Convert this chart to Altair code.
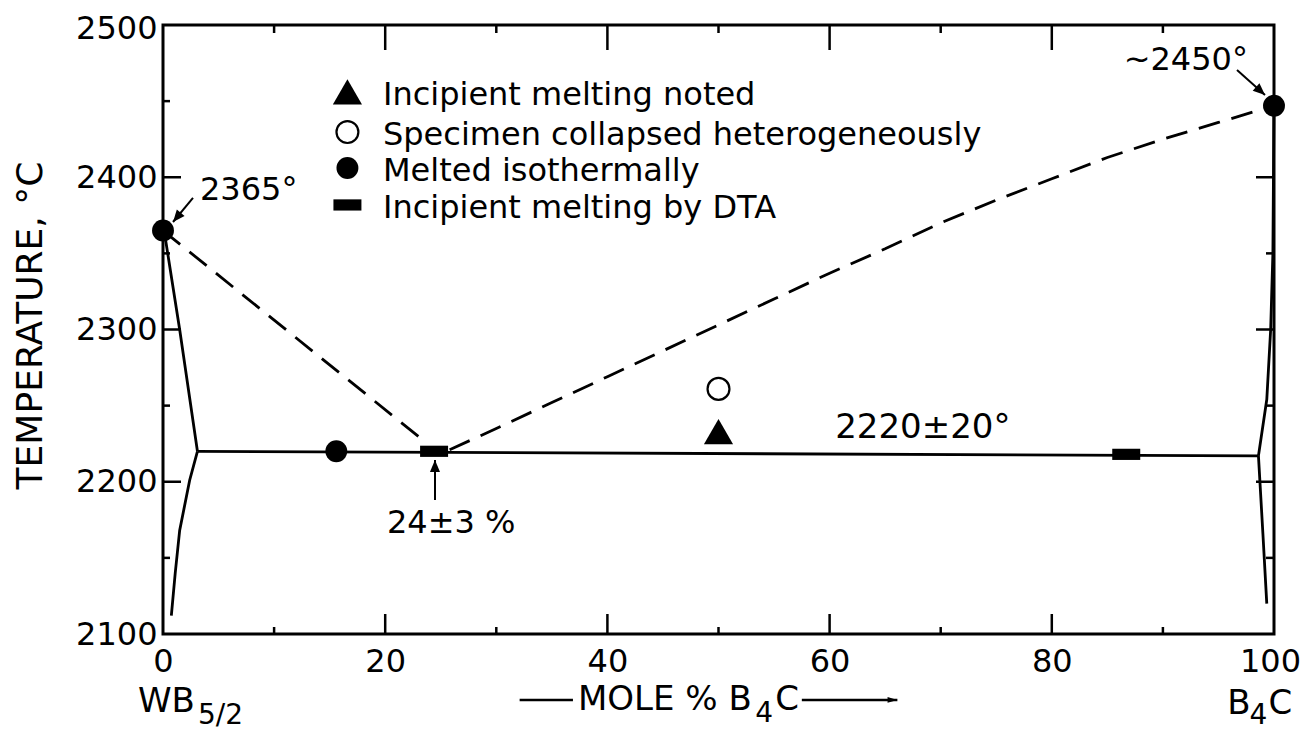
import altair as alt
import pandas as pd

W, H = 1111, 609
FONT = "DejaVu Sans"

# ---------------- data ----------------
x_labels = [0, 20, 40, 60, 80, 100]
y_labels = [2100, 2200, 2300, 2400, 2500]
x_ticks_major = [20, 40, 60, 80]
x_ticks_minor = [10, 30, 50, 70, 90]
y_ticks_major = [2200, 2300, 2400]
y_ticks_minor = [2150, 2250, 2350, 2450]

# solid phase boundaries
eutectic_x = [3.1, 98.6]
eutectic_t = [2220, 2217]
left_sol_up_x = [0.1, 1.5, 3.1]
left_sol_up_t = [2365, 2300, 2220]
left_sol_lo_x = [3.1, 2.4, 1.5, 1.1, 0.75]
left_sol_lo_t = [2220, 2201, 2168, 2140, 2112]
right_sol_up_x = [100, 99.9, 99.7, 99.35, 98.6]
right_sol_up_t = [2447, 2350, 2300, 2254, 2217]
right_sol_lo_x = [98.6, 99.0, 99.35]
right_sol_lo_t = [2217, 2166, 2120]

# dashed liquidus
liq_left_x = [0, 23.8]
liq_left_t = [2365, 2225]
liq_right_x = [25.8, 30, 35, 40, 45, 50, 55, 60, 65, 70, 75, 80, 85, 90, 95, 100]
liq_right_t = [2221, 2235, 2252, 2269, 2286, 2303, 2320, 2337, 2353, 2370, 2385, 2399, 2413, 2425, 2436, 2447]

# experimental points
melted_x = [0, 15.6, 100]
melted_t = [2365, 2220, 2447]
collapsed_x = [50]
collapsed_t = [2261]
incipient_x = [50]
incipient_t = [2233]
dta_x = [24.4, 86.7]
dta_t = [2220, 2218]

# legend
legend_labels = ["Incipient melting noted", "Specimen collapsed heterogeneously",
                 "Melted isothermally", "Incipient melting by DTA"]
legend_text_x = 19.8
legend_text_t = [2447.5, 2421.2, 2397.5, 2373.2]
legend_sym_x = 16.6
legend_sym_t = [2456, 2429.7, 2406.1, 2381.8]

# annotations
ann_text = ["2365°", "24±3 %"]
ann_x = [3.33, 20.16]
ann_t = [2385, 2166.3]
ann_big_text = ["2220±20°"]
ann_big_x = [60.5]
ann_big_t = [2228.7]
ann_right_text = ["~2450°"]
ann_right_x = [97.65]
ann_right_t = [2470.4]

arrow_x1 = [2.70, 96.67, 24.48]
arrow_t1 = [2386.4, 2470.4, 2188]
arrow_x2 = [0.90, 99.19, 24.48]
arrow_t2 = [2370.6, 2454.0, 2214.3]
arrow_angle = [220, 132, 0]

# bottom labels
bottom_text = ["WB", "MOLE % B", "C", "B", "C"]
bottom_x = [-2.25, 37.35, 55.1, 95.8, 99.5]
bottom_t = [2048.8, 2050.1, 2050.1, 2047.5, 2047.5]
sub_text = ["5/2", "4", "4"]
sub_x = [3.15, 53.3, 97.8]
sub_t = [2040.9, 2042.2, 2040.9]
dir_line_x1 = [32.1, 57.5]
dir_line_x2 = [36.9, 66.1]
dir_line_t = [2056.7, 2056.7]
dir_head_x = [66.1]
dir_head_t = [2056.7]

# ---------------- helpers ----------------
xs = alt.Scale(domain=[0, 100], nice=False, zero=False)
ys = alt.Scale(domain=[2100, 2500], nice=False, zero=False)
ax_x = alt.Axis(values=x_labels, ticks=False, domain=False, grid=False, format="d",
                labelFont=FONT, labelFontSize=32, labelColor="black",
                labelPadding=12, labelFlush=False, labelOverlap=False, title=None,
                labelOffset={"condition": {"test": "datum.value == 100", "value": -4},
                             "value": 0})
ax_y = alt.Axis(values=y_labels, ticks=False, domain=False, grid=False, format="d",
                labelFont=FONT, labelFontSize=32, labelColor="black",
                labelPadding=6, labelFlush=False, labelOverlap=False,
                labelOffset={"condition": {"test": "datum.value == 2500", "value": 3},
                             "value": 0},
                title="TEMPERATURE, °C", titleFont=FONT, titleFontSize=36,
                titleFontWeight="normal", titleColor="black", titleAngle=270,
                titleX=-133, titleY=300, titleAlign="center", titleBaseline="middle")

X = lambda: alt.X("x:Q", scale=xs, axis=ax_x)
Y = lambda: alt.Y("y:Q", scale=ys, axis=ax_y)


def df(xv, yv, **extra):
    d = {"x": xv, "y": yv}
    d.update(extra)
    return pd.DataFrame(d)


def series(*pairs):
    rows = []
    for k, (xv, yv) in enumerate(pairs):
        for i, (a, b) in enumerate(zip(xv, yv)):
            rows.append({"x": a, "y": b, "seg": k, "i": i})
    return pd.DataFrame(rows)


layers = []

# ticks (inward)
tick_style = dict(color="black", strokeWidth=2.5)
layers.append(alt.Chart(pd.DataFrame({"x": x_ticks_major})).mark_rule(**tick_style).encode(
    x=X(), y=alt.value(H), y2=alt.value(H - 20)))
layers.append(alt.Chart(pd.DataFrame({"x": x_ticks_minor})).mark_rule(**tick_style).encode(
    x=X(), y=alt.value(H), y2=alt.value(H - 7)))
layers.append(alt.Chart(pd.DataFrame({"x": x_ticks_major})).mark_rule(**tick_style).encode(
    x=X(), y=alt.value(0), y2=alt.value(25)))
layers.append(alt.Chart(pd.DataFrame({"x": x_ticks_minor})).mark_rule(**tick_style).encode(
    x=X(), y=alt.value(0), y2=alt.value(8)))
layers.append(alt.Chart(pd.DataFrame({"y": y_ticks_major})).mark_rule(**tick_style).encode(
    y=Y(), x=alt.value(0), x2=alt.value(18)))
layers.append(alt.Chart(pd.DataFrame({"y": y_ticks_minor})).mark_rule(**tick_style).encode(
    y=Y(), x=alt.value(0), x2=alt.value(7)))
layers.append(alt.Chart(pd.DataFrame({"y": y_ticks_major})).mark_rule(**tick_style).encode(
    y=Y(), x=alt.value(W), x2=alt.value(W - 18)))
layers.append(alt.Chart(pd.DataFrame({"y": y_ticks_minor})).mark_rule(**tick_style).encode(
    y=Y(), x=alt.value(W), x2=alt.value(W - 8)))

# solid boundaries
solid = series((eutectic_x, eutectic_t), (left_sol_up_x, left_sol_up_t),
               (left_sol_lo_x, left_sol_lo_t), (right_sol_up_x, right_sol_up_t),
               (right_sol_lo_x, right_sol_lo_t))
layers.append(alt.Chart(solid).mark_line(color="black", strokeWidth=2.8).encode(
    x=X(), y=Y(), detail="seg:N", order="i:Q"))

# dashed liquidus
dashed = series((liq_left_x, liq_left_t), (liq_right_x, liq_right_t))
layers.append(alt.Chart(dashed).mark_line(color="black", strokeWidth=2.8,
                                          strokeDash=[22, 12]).encode(
    x=X(), y=Y(), detail="seg:N", order="i:Q"))

# symbols
RECT = "M-1,-0.4L1,-0.4L1,0.4L-1,0.4Z"
pt = dict(opacity=1)
melted = df(melted_x + [legend_sym_x], melted_t + [legend_sym_t[2]])
layers.append(alt.Chart(melted).mark_point(shape="circle", filled=True, color="black",
                                           size=480, **pt).encode(x=X(), y=Y()))
coll = df(collapsed_x + [legend_sym_x], collapsed_t + [legend_sym_t[1]])
layers.append(alt.Chart(coll).mark_point(shape="circle", filled=False, color="black",
                                         strokeWidth=2.2, size=480, **pt).encode(x=X(), y=Y()))
inc = df(incipient_x + [legend_sym_x], incipient_t + [legend_sym_t[0]])
layers.append(alt.Chart(inc).mark_point(shape="triangle-up", filled=True, color="black",
                                        size=850, **pt).encode(x=X(), y=Y()))
dta = df(dta_x + [legend_sym_x], dta_t + [legend_sym_t[3]])
layers.append(alt.Chart(dta).mark_point(shape=RECT, filled=True, color="black",
                                        size=784, **pt).encode(x=X(), y=Y()))

# legend text
leg = df([legend_text_x] * 4, legend_text_t, label=legend_labels)
txt = dict(font=FONT, fontSize=32, color="black", baseline="alphabetic")
layers.append(alt.Chart(leg).mark_text(align="left", **txt).encode(
    x=X(), y=Y(), text="label:N"))

# annotations
ann = df(ann_x, ann_t, label=ann_text)
layers.append(alt.Chart(ann).mark_text(align="left", **txt).encode(
    x=X(), y=Y(), text="label:N"))
annb = df(ann_big_x, ann_big_t, label=ann_big_text)
layers.append(alt.Chart(annb).mark_text(align="left", font=FONT, fontSize=34, color="black",
                                        baseline="alphabetic").encode(
    x=X(), y=Y(), text="label:N"))
annr = df(ann_right_x, ann_right_t, label=ann_right_text)
layers.append(alt.Chart(annr).mark_text(align="right", **txt).encode(
    x=X(), y=Y(), text="label:N"))

arrows = pd.DataFrame({"x": arrow_x1, "y": arrow_t1, "x2": arrow_x2, "y2": arrow_t2,
                       "a": arrow_angle})
layers.append(alt.Chart(arrows).mark_rule(color="black", strokeWidth=2).encode(
    x=X(), y=Y(), x2="x2:Q", y2="y2:Q"))
HEAD = "M0,0L-0.42,1L0.42,1Z"
heads = pd.DataFrame({"x": arrow_x2, "y": arrow_t2, "a": arrow_angle})
layers.append(alt.Chart(heads).mark_point(shape=HEAD, filled=True, color="black",
                                          size=576, opacity=1).encode(
    x=X(), y=Y(), angle=alt.Angle("a:Q", scale=None)))

# bottom labels
bot = df(bottom_x, bottom_t, label=bottom_text)
layers.append(alt.Chart(bot).mark_text(align="left", font=FONT, fontSize=34, color="black",
                                       baseline="alphabetic").encode(
    x=X(), y=Y(), text="label:N"))
sub = df(sub_x, sub_t, label=sub_text)
layers.append(alt.Chart(sub).mark_text(align="left", font=FONT, fontSize=28, color="black",
                                       baseline="alphabetic").encode(
    x=X(), y=Y(), text="label:N"))
dirl = pd.DataFrame({"x": dir_line_x1, "x2": dir_line_x2, "y": dir_line_t})
layers.append(alt.Chart(dirl).mark_rule(color="black", strokeWidth=2.5).encode(
    x=X(), x2="x2:Q", y=Y()))
dirh = pd.DataFrame({"x": dir_head_x, "y": dir_head_t, "a": [90]})
layers.append(alt.Chart(dirh).mark_point(shape="M0,0L-0.4,1.4L0.4,1.4Z", filled=True,
                                         color="black", size=196, opacity=1).encode(
    x=X(), y=Y(), angle=alt.Angle("a:Q", scale=None)))

chart = alt.layer(*layers).properties(
    width=W, height=H,
    autosize=alt.AutoSizeParams(type="none"),
    padding={"left": 155, "top": 17, "right": 27, "bottom": 96},
    background="white",
).configure_view(stroke="black", strokeWidth=3)

chart.save("out.html", embed_options={"renderer": "svg", "actions": False})
